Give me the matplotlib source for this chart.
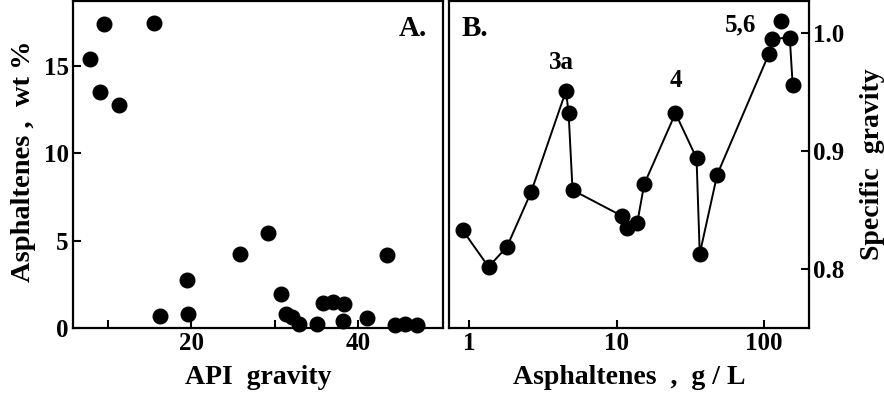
import numpy as np
import matplotlib
matplotlib.use("Agg")
import matplotlib.pyplot as plt
from matplotlib.ticker import FixedLocator, NullLocator

plt.rcParams['font.family'] = ['Liberation Serif', 'DejaVu Serif']
plt.rcParams['font.weight'] = 'bold'
plt.rcParams['axes.labelweight'] = 'bold'

# panel A: API gravity vs asphaltene content
api_gravity = [7.9, 9.1, 9.6, 11.4, 15.5, 16.2, 19.5, 19.6, 25.9, 29.2,
               30.7, 31.3, 32.1, 32.9, 35.1, 35.8, 37.0, 38.3, 38.2, 41.1,
               43.4, 44.4, 45.6, 47.1]
asph_wt = [15.4, 13.5, 17.4, 12.75, 17.45, 0.73, 2.78, 0.79, 4.24, 5.42,
           1.94, 0.83, 0.63, 0.25, 0.25, 1.44, 1.53, 1.40, 0.44, 0.60,
           4.18, 0.16, 0.25, 0.21]

# panel B: asphaltenes (g/L) vs specific gravity, joined by a line
asph_gl = [0.90, 1.35, 1.80, 2.62, 4.53, 4.72, 5.02, 10.9, 11.8, 13.8,
           15.4, 25.1, 34.9, 36.7, 48.2, 108, 114, 150, 157]
spec_grav = [0.833, 0.802, 0.819, 0.865, 0.951, 0.932, 0.867, 0.845, 0.835, 0.839,
             0.872, 0.932, 0.894, 0.813, 0.880, 0.982, 0.995, 0.996, 0.956]
# lone point above the line
extra_gl = [131]
extra_sg = [1.010]

peak_labels = ['3a', '4', '5,6']
peak_x = [4.25, 25.1, 69]
peak_y = [0.975, 0.960, 1.007]

a_xticks = [20, 40]
a_xminor = [10, 30]
a_yticks = [0, 5, 10, 15]
b_xticks = [1, 10, 100]
b_xticklabels = ['1', '10', '100']
b_yticks = [0.8, 0.9, 1.0]
b_yticklabels = ['0.8', '0.9', '1.0']

FS_TICK = 18
FS_LAB = 20
SPINE = 1.6

fig = plt.figure(figsize=(8.84, 3.94), dpi=100)
axA = fig.add_axes([72.7/884, 1-328.3/394, (443.3-72.7)/884, (328.3-1)/394])
axB = fig.add_axes([449/884, 1-328.3/394, (808.8-449)/884, (328.3-1)/394])

for ax in (axA, axB):
    for s in ax.spines.values():
        s.set_linewidth(SPINE)
    ax.tick_params(which='both', direction='in', length=6, width=1.5,
                   labelsize=FS_TICK, pad=3)

# --- A ---
axA.plot(api_gravity, asph_wt, 'o', color='black', ms=10.5, clip_on=False)
axA.set_xlim(5.8, 50.2)
axA.set_ylim(0, 18.7)
axA.xaxis.set_major_locator(FixedLocator(a_xticks))
axA.xaxis.set_minor_locator(FixedLocator(a_xminor))
axA.yaxis.set_major_locator(FixedLocator(a_yticks))
axA.yaxis.set_minor_locator(NullLocator())
axA.set_xlabel('API  gravity', fontsize=FS_LAB, labelpad=7)
axA.set_ylabel('Asphaltenes ,  wt %', fontsize=20.5)
axA.yaxis.set_label_coords(-0.1, 0.51)
axA.text(0.955, 0.915, 'A.', transform=axA.transAxes, ha='right', va='center',
         fontsize=21)

# --- B ---
axB.plot(asph_gl, spec_grav, '-o', color='black', ms=10.5, lw=1.4)
axB.plot(extra_gl, extra_sg, 'o', color='black', ms=10.5)
axB.set_xscale('log')
axB.set_xlim(0.727, 202)
axB.set_ylim(0.750, 1.027)
axB.xaxis.set_major_locator(FixedLocator(b_xticks))
axB.set_xticklabels(b_xticklabels)
axB.xaxis.set_minor_locator(NullLocator())
axB.yaxis.set_major_locator(FixedLocator(b_yticks))
axB.set_yticklabels(b_yticklabels)
axB.yaxis.set_minor_locator(NullLocator())
axB.yaxis.tick_right()
axB.yaxis.set_label_position('right')
axB.set_xlabel('Asphaltenes  ,  g / L', fontsize=FS_LAB, labelpad=7)
axB.set_ylabel('Specific  gravity', fontsize=FS_LAB, labelpad=11)
axB.text(0.035, 0.915, 'B.', transform=axB.transAxes, ha='left', va='center',
         fontsize=21)
for lab, x, y in zip(peak_labels, peak_x, peak_y):
    axB.text(x, y, lab, ha='center', va='center', fontsize=FS_TICK)

fig.savefig('out.png', dpi=100)
